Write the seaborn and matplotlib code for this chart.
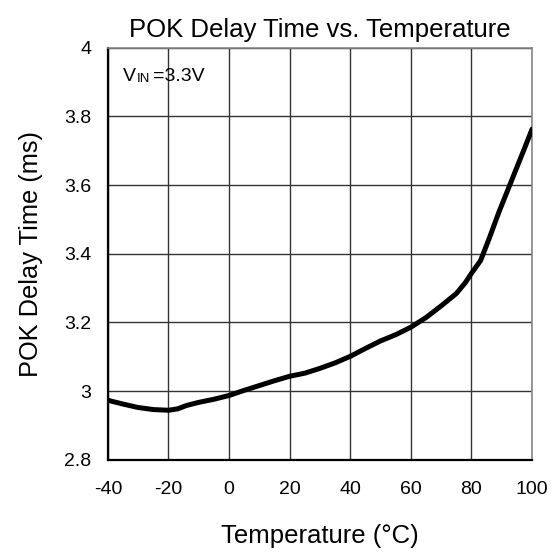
import matplotlib
matplotlib.use("Agg")
import matplotlib.pyplot as plt
import seaborn as sns
import pandas as pd

temperature = [-40, -35, -30, -25, -20, -17, -14, -10, -5, 0, 5, 10, 15, 20, 25, 30, 35, 40, 45, 50, 55, 60, 65, 70, 75, 78, 80, 83, 86, 89, 92, 95, 98, 100]
delay_ms = [2.973, 2.962, 2.952, 2.946, 2.944, 2.948, 2.958, 2.967, 2.976, 2.987, 3.002, 3.016, 3.030, 3.043, 3.052, 3.066, 3.082, 3.101, 3.124, 3.146, 3.164, 3.186, 3.214, 3.248, 3.284, 3.316, 3.343, 3.380, 3.448, 3.520, 3.586, 3.652, 3.718, 3.763]

x_ticks = [-40, -20, 0, 20, 40, 60, 80, 100]
y_ticks = [2.8, 3.0, 3.2, 3.4, 3.6, 3.8, 4.0]
y_tick_labels = ["2.8", "3", "3.2", "3.4", "3.6", "3.8", "4"]

sns.set_theme(style="white")
plt.rcParams["font.family"] = ["Liberation Sans", "DejaVu Sans"]

df = pd.DataFrame({"Temperature": temperature, "Delay": delay_ms})

fig = plt.figure(figsize=(5.56, 5.57), dpi=100)
ax = fig.add_axes([0.194, 0.1747, 0.763, 0.7397])

sns.lineplot(data=df, x="Temperature", y="Delay", ax=ax, color="black", linewidth=3.6, zorder=3)

ax.set_xlim(-40, 100)
ax.set_ylim(2.8, 4.0)
ax.set_xticks(x_ticks)
ax.set_xticklabels([str(t) for t in x_ticks])
ax.set_yticks(y_ticks)
ax.set_yticklabels(y_tick_labels)
ax.tick_params(axis="both", labelsize=14, colors="black", length=0)
ax.tick_params(axis="x", pad=15)
ax.tick_params(axis="y", pad=12)
ax.grid(True, color="#333333", linewidth=1.0)
for side in ["left", "bottom"]:
    ax.spines[side].set_color("black")
    ax.spines[side].set_linewidth(1.6)
for side in ["top", "right"]:
    ax.spines[side].set_color("#888888")
    ax.spines[side].set_linewidth(1.2)

ax.set_title("POK Delay Time vs. Temperature", fontsize=18.5, color="black", pad=8)
ax.set_xlabel("Temperature (°C)", fontsize=18.5, color="black", labelpad=19)
ax.set_ylabel("POK Delay Time (ms)", fontsize=18.3, color="black", labelpad=15)

t1 = ax.text(-35.05, 3.903, "V", fontsize=14, color="black", va="baseline", ha="left")
t2 = ax.annotate("IN", xy=(1, 0), xycoords=t1, xytext=(0.5, 0), textcoords="offset points",
                 fontsize=9.5, color="black", va="bottom", ha="left")
ax.annotate("=3.3V", xy=(1, 0), xycoords=t2, xytext=(2.5, 0), textcoords="offset points",
            fontsize=14, color="black", va="bottom", ha="left")

fig.savefig("out.png", dpi=100)
